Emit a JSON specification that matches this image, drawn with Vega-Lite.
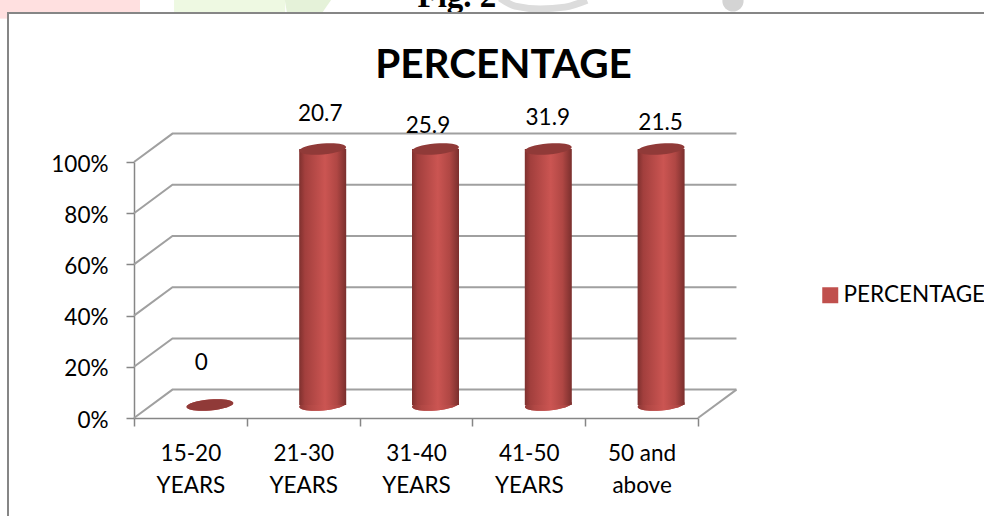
{
  "$schema": "https://vega.github.io/schema/vega-lite/v6.json",
  "width": 564,
  "height": 256,
  "autosize": "none",
  "padding": {"left": 134, "top": 162, "right": 286, "bottom": 98},
  "background": "white",
  "config": {"view": {"stroke": null}},
  "title": {
    "text": "PERCENTAGE",
    "font": "Lato",
    "fontSize": 40.5,
    "fontWeight": "bold",
    "color": "#000000",
    "anchor": "middle",
    "dx": 87.5,
    "offset": -137,
    "baseline": "alphabetic"
  },
  "datasets": {
    "ages": [
      {"age": "15-20 YEARS", "percentage": 0, "series": "PERCENTAGE"},
      {"age": "21-30 YEARS", "percentage": 20.7, "series": "PERCENTAGE"},
      {"age": "31-40 YEARS", "percentage": 25.9, "series": "PERCENTAGE"},
      {"age": "41-50 YEARS", "percentage": 31.9, "series": "PERCENTAGE"},
      {"age": "50 and above", "percentage": 21.5, "series": "PERCENTAGE"}
    ],
    "walls": [
      {"line": "g0", "u": 0, "v": 0}, {"line": "g0", "u": 0.341, "v": 0.111}, {"line": "g0", "u": 5.341, "v": 0.111},
      {"line": "floor", "u": 5, "v": 0}, {"line": "floor", "u": 5.341, "v": 0.111},
      {"line": "g20", "u": 0, "v": 0.2}, {"line": "g20", "u": 0.341, "v": 0.311}, {"line": "g20", "u": 5.341, "v": 0.311},
      {"line": "g40", "u": 0, "v": 0.4}, {"line": "g40", "u": 0.341, "v": 0.511}, {"line": "g40", "u": 5.341, "v": 0.511},
      {"line": "g60", "u": 0, "v": 0.6}, {"line": "g60", "u": 0.341, "v": 0.711}, {"line": "g60", "u": 5.341, "v": 0.711},
      {"line": "g80", "u": 0, "v": 0.8}, {"line": "g80", "u": 0.341, "v": 0.911}, {"line": "g80", "u": 5.341, "v": 0.911},
      {"line": "g100", "u": 0, "v": 1}, {"line": "g100", "u": 0.341, "v": 1.111}, {"line": "g100", "u": 5.341, "v": 1.111}
    ]
  },
  "data": {"name": "ages"},
  "transform": [
    {"stack": "percentage", "groupby": ["age"], "offset": "normalize", "as": ["share0", "share"]},
    {"calculate": "isValid(datum.share) && isFinite(datum.share) ? datum.share : 0", "as": "share"}
  ],
  "layer": [
    {
      "mark": {"type": "point", "filled": true, "opacity": 1, "shape": "M -1 0 A 1 0.23 0 1 0 1 0 A 1 0.23 0 1 0 -1 0 Z", "size": 2208, "angle": -5, "xOffset": 19.5, "yOffset": -13},
      "encoding": {
        "x": {"field": "age", "type": "nominal", "sort": null, "scale": {"domain": ["15-20 YEARS", "21-30 YEARS", "31-40 YEARS", "41-50 YEARS", "50 and above"], "paddingInner": 0, "paddingOuter": 0}, "axis": {
          "title": null, "labelAngle": 0, "tickBand": "extent", "tickSize": 8, "tickColor": "#868686", "tickWidth": 1.5, "domainColor": "#868686", "domainWidth": 1.5,
          "labelFont": "Lato", "labelFontSize": 22.5, "labelColor": "#000000", "labelPadding": 16, "labelLineHeight": 32, "labelBaseline": "top",
          "labelExpr": "datum.label == '50 and above' ? ['50 and', 'above'] : split(datum.label, ' ')"
        }},
        "y": {"datum": 0, "type": "quantitative", "scale": {"domain": [0, 1], "nice": false}, "axis": {
          "title": null, "format": "%", "values": [0, 0.2, 0.4, 0.6, 0.8, 1], "tickSize": 8, "tickColor": "#868686", "tickWidth": 1.5, "domainColor": "#868686", "domainWidth": 1.5, "grid": false,
          "labelFont": "Lato", "labelFontSize": 22.5, "labelColor": "#000000", "labelPadding": 18, "labelOffset": 2
        }},
        "color": {"field": "series", "type": "nominal", "scale": {"domain": ["PERCENTAGE"], "range": ["#c0504d"]}, "legend": {
          "title": null, "orient": "none", "legendX": 685, "legendY": 122, "symbolType": "square", "symbolSize": 256, "symbolStrokeWidth": 0, "symbolOpacity": 1, "labelFont": "Lato", "labelFontSize": 22.5, "labelColor": "#000000", "padding": 0, "labelOffset": 2, "labelLimit": 300
        }}
      }
    },
    {
      "data": {"values": [
        {"u": -1.19, "u2": 0.053, "v": 1.7, "v2": 1.582, "tint": "pink"},
        {"u": -1.19, "u2": -1.117, "v": 1.582, "v2": 1.56, "tint": "pink"},
        {"u": 0.355, "u2": 1.34, "v": 1.7, "v2": 1.582, "tint": "green"}
      ]},
      "transform": [],
      "mark": {"type": "rect"},
      "encoding": {
        "x": {"field": "u", "type": "quantitative", "scale": {"domain": [0, 5], "nice": false, "zero": false}, "axis": null},
        "x2": {"field": "u2"},
        "y": {"field": "v", "type": "quantitative", "scale": {"domain": [0, 1], "nice": false}, "axis": {"title": null}},
        "y2": {"field": "v2"},
        "fill": {"field": "tint", "type": "nominal", "scale": {"domain": ["pink", "green"], "range": ["#ffe0e0", "#eef9e2"]}, "legend": null}
      }
    },
    {
      "data": {"values": [
        {"u": 1.312, "v": 1.7, "v2": 1.7},
        {"u": 1.356, "v": 1.7, "v2": 1.582},
        {"u": 1.667, "v": 1.7, "v2": 1.582},
        {"u": 1.853, "v": 1.7, "v2": 1.7}
      ]},
      "mark": {"type": "area", "fill": "#e5f2d9"},
      "encoding": {
        "x": {"field": "u", "type": "quantitative", "scale": {"domain": [0, 5], "nice": false, "zero": false}, "axis": null},
        "y": {"field": "v", "type": "quantitative", "stack": null, "scale": {"domain": [0, 1], "nice": false}, "axis": {"title": null}},
        "y2": {"field": "v2"}
      }
    },
    {
      "data": {"values": [
        {"u": 3.245, "v": 1.64},
        {"u": 3.378, "v": 1.609},
        {"u": 3.6, "v": 1.598},
        {"u": 3.82, "v": 1.605},
        {"u": 4.016, "v": 1.632}
      ]},
      "mark": {"type": "line", "stroke": "#dcdcdc", "strokeWidth": 7, "interpolate": "monotone"},
      "encoding": {
        "x": {"field": "u", "type": "quantitative", "scale": {"domain": [0, 5], "nice": false, "zero": false}, "axis": null},
        "y": {"field": "v", "type": "quantitative", "scale": {"domain": [0, 1], "nice": false}, "axis": {"title": null}}
      }
    },
    {
      "data": {"values": [{"u": 5.31, "v": 1.629}]},
      "mark": {"type": "point", "shape": "circle", "filled": true, "opacity": 1, "fill": "#d4d4d4", "size": 450},
      "encoding": {
        "x": {"field": "u", "type": "quantitative", "scale": {"domain": [0, 5], "nice": false, "zero": false}, "axis": null},
        "y": {"field": "v", "type": "quantitative", "scale": {"domain": [0, 1], "nice": false}, "axis": {"title": null}}
      }
    },
    {
      "data": {"values": [{"t": "Fig. 2", "u": 2.863, "v": 1.604}]},
      "mark": {"type": "text", "font": "Liberation Serif", "fontWeight": "bold", "fontSize": 33, "baseline": "alphabetic", "align": "center", "color": "#000000"},
      "encoding": {
        "x": {"field": "u", "type": "quantitative", "scale": {"domain": [0, 5], "nice": false, "zero": false}, "axis": null},
        "y": {"field": "v", "type": "quantitative", "scale": {"domain": [0, 1], "nice": false}, "axis": {"title": null}},
        "text": {"field": "t"}
      }
    },
    {
      "data": {"values": [{"u": -1.117, "u2": 7.7, "v": 1.582, "v2": -0.5}]},
      "mark": {"type": "rect", "fill": null, "stroke": "#868686", "strokeWidth": 2},
      "encoding": {
        "x": {"field": "u", "type": "quantitative", "scale": {"domain": [0, 5], "nice": false, "zero": false}, "axis": null},
        "x2": {"field": "u2"},
        "y": {"field": "v", "type": "quantitative", "scale": {"domain": [0, 1], "nice": false}, "axis": {"title": null}},
        "y2": {"field": "v2"}
      }
    },
    {
      "data": {"name": "walls"},
      "mark": {"type": "line", "stroke": "#a0a0a0", "strokeWidth": 2},
      "encoding": {
        "x": {"field": "u", "type": "quantitative", "scale": {"domain": [0, 5], "nice": false, "zero": false}, "axis": null},
        "y": {"field": "v", "type": "quantitative", "scale": {"domain": [0, 1], "nice": false}, "axis": {"title": null}},
        "detail": {"field": "line"},
        "order": {"field": "u", "type": "quantitative"}
      }
    },
    {
      "transform": [{"filter": "datum.percentage > 0"}],
      "mark": {"type": "point", "filled": true, "opacity": 1, "fill": {"gradient": "linear", "x1": 0, "y1": 0, "x2": 1, "y2": 0, "stops": [{"offset": 0, "color": "#8e3836"}, {"offset": 0.2, "color": "#b04744"}, {"offset": 0.55, "color": "#cb5552"}, {"offset": 0.85, "color": "#b04744"}, {"offset": 1, "color": "#8e3836"}]}, "shape": "M -1 0 A 1 0.23 0 1 0 1 0 A 1 0.23 0 1 0 -1 0 Z", "size": 2208, "angle": -5, "xOffset": 19.5, "yOffset": -13},
      "encoding": {
        "x": {"field": "age", "type": "nominal", "sort": null, "scale": {"domain": ["15-20 YEARS", "21-30 YEARS", "31-40 YEARS", "41-50 YEARS", "50 and above"], "paddingInner": 0, "paddingOuter": 0}, "axis": null},
        "y": {"datum": 0, "type": "quantitative", "scale": {"domain": [0, 1], "nice": false}, "axis": {"title": null}}
      }
    },
    {
      "transform": [{"filter": "datum.percentage > 0"}],
      "mark": {"type": "bar", "width": 47, "xOffset": 19.5, "yOffset": -13, "y2Offset": -13, "fill": {"gradient": "linear", "x1": 0, "y1": 0, "x2": 1, "y2": 0, "stops": [
        {"offset": 0, "color": "#7e302e"},
        {"offset": 0.12, "color": "#a23f3d"},
        {"offset": 0.55, "color": "#cb5552"},
        {"offset": 0.8, "color": "#b04744"},
        {"offset": 1, "color": "#7a2f2d"}
      ]}},
      "encoding": {
        "x": {"field": "age", "type": "nominal", "sort": null, "scale": {"domain": ["15-20 YEARS", "21-30 YEARS", "31-40 YEARS", "41-50 YEARS", "50 and above"], "paddingInner": 0, "paddingOuter": 0}, "axis": null},
        "y": {"field": "share", "type": "quantitative", "stack": null, "scale": {"domain": [0, 1], "nice": false}, "axis": {"title": null}},
        "y2": {"datum": 0}
      }
    },
    {
      "mark": {"type": "point", "filled": true, "opacity": 1, "fill": "#903a38", "shape": "M -1 0 A 1 0.23 0 1 0 1 0 A 1 0.23 0 1 0 -1 0 Z", "size": 2208, "angle": -5, "xOffset": 19.5, "yOffset": -13},
      "encoding": {
        "x": {"field": "age", "type": "nominal", "sort": null, "scale": {"domain": ["15-20 YEARS", "21-30 YEARS", "31-40 YEARS", "41-50 YEARS", "50 and above"], "paddingInner": 0, "paddingOuter": 0}, "axis": null},
        "y": {"field": "share", "type": "quantitative", "scale": {"domain": [0, 1], "nice": false}, "axis": {"title": null}}
      }
    },
    {
      "transform": [{"filter": "datum.percentage == 0"}],
      "mark": {"type": "text", "font": "Lato", "fontSize": 22.5, "color": "#000000", "dx": 11, "dy": -55},
      "encoding": {
        "x": {"field": "age", "type": "nominal", "sort": null, "scale": {"domain": ["15-20 YEARS", "21-30 YEARS", "31-40 YEARS", "41-50 YEARS", "50 and above"], "paddingInner": 0, "paddingOuter": 0}, "axis": null},
        "y": {"field": "share", "type": "quantitative", "scale": {"domain": [0, 1], "nice": false}, "axis": {"title": null}},
        "text": {"field": "percentage", "type": "quantitative"}
      }
    },
    {
      "transform": [{"filter": "datum.percentage == 20.7"}],
      "mark": {"type": "text", "font": "Lato", "fontSize": 22.5, "color": "#000000", "dx": 17, "dy": -48},
      "encoding": {
        "x": {"field": "age", "type": "nominal", "sort": null, "scale": {"domain": ["15-20 YEARS", "21-30 YEARS", "31-40 YEARS", "41-50 YEARS", "50 and above"], "paddingInner": 0, "paddingOuter": 0}, "axis": null},
        "y": {"field": "share", "type": "quantitative", "scale": {"domain": [0, 1], "nice": false}, "axis": {"title": null}},
        "text": {"field": "percentage", "type": "quantitative"}
      }
    },
    {
      "transform": [{"filter": "datum.percentage == 25.9"}],
      "mark": {"type": "text", "font": "Lato", "fontSize": 22.5, "color": "#000000", "dx": 12, "dy": -36},
      "encoding": {
        "x": {"field": "age", "type": "nominal", "sort": null, "scale": {"domain": ["15-20 YEARS", "21-30 YEARS", "31-40 YEARS", "41-50 YEARS", "50 and above"], "paddingInner": 0, "paddingOuter": 0}, "axis": null},
        "y": {"field": "share", "type": "quantitative", "scale": {"domain": [0, 1], "nice": false}, "axis": {"title": null}},
        "text": {"field": "percentage", "type": "quantitative"}
      }
    },
    {
      "transform": [{"filter": "datum.percentage == 31.9"}],
      "mark": {"type": "text", "font": "Lato", "fontSize": 22.5, "color": "#000000", "dx": 19, "dy": -44},
      "encoding": {
        "x": {"field": "age", "type": "nominal", "sort": null, "scale": {"domain": ["15-20 YEARS", "21-30 YEARS", "31-40 YEARS", "41-50 YEARS", "50 and above"], "paddingInner": 0, "paddingOuter": 0}, "axis": null},
        "y": {"field": "share", "type": "quantitative", "scale": {"domain": [0, 1], "nice": false}, "axis": {"title": null}},
        "text": {"field": "percentage", "type": "quantitative"}
      }
    },
    {
      "transform": [{"filter": "datum.percentage == 21.5"}],
      "mark": {"type": "text", "font": "Lato", "fontSize": 22.5, "color": "#000000", "dx": 19, "dy": -39},
      "encoding": {
        "x": {"field": "age", "type": "nominal", "sort": null, "scale": {"domain": ["15-20 YEARS", "21-30 YEARS", "31-40 YEARS", "41-50 YEARS", "50 and above"], "paddingInner": 0, "paddingOuter": 0}, "axis": null},
        "y": {"field": "share", "type": "quantitative", "scale": {"domain": [0, 1], "nice": false}, "axis": {"title": null}},
        "text": {"field": "percentage", "type": "quantitative"}
      }
    }
  ],
  "resolve": {"scale": {"x": "independent"}}
}
